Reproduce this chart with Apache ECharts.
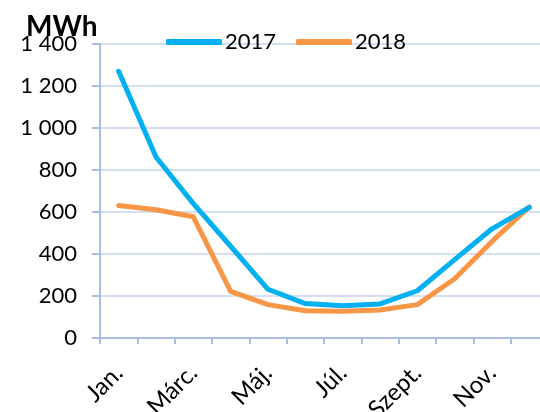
<!DOCTYPE html>
<html>
<head>
<meta charset="utf-8">
<script src="https://cdn.jsdelivr.net/npm/echarts@6/dist/echarts.min.js"></script>
<style>html,body{margin:0;padding:0;background:#fff;}#c{width:540px;height:412px;}</style>
</head>
<body>
<div id="c"></div>
<script>
var categories = ['Jan.', 'Febr.', 'Márc.', 'Ápr.', 'Máj.', 'Jún.', 'Júl.', 'Aug.', 'Szept.', 'Okt.', 'Nov.', 'Dec.'];
var series2017 = [1270, 862, 640, 437, 232, 164, 154, 162, 225, 373, 520, 622];
var series2018 = [631, 611, 577, 222, 159, 130, 127, 133, 159, 282, 460, 624];
var yTicks = [0, 200, 400, 600, 800, 1000, 1200, 1400];
var unitLabel = 'MWh';

var FONT = 'Lato';
var chart = echarts.init(document.getElementById('c'), null, {renderer: 'canvas'});
chart.setOption({
  animation: false,
  backgroundColor: '#ffffff',
  title: {
    text: unitLabel, left: 21, top: 8,
    textStyle: {fontFamily: FONT, fontWeight: 'bold', fontSize: 28, color: '#000'}
  },
  legend: {
    data: [{name: '2017', icon: 'roundRect'}, {name: '2018', icon: 'roundRect'}],
    left: 161, top: 26, itemWidth: 56, itemHeight: 6, itemGap: 20,
    textStyle: {fontFamily: FONT, fontSize: 22, color: '#000', padding: [0, 0, 0, -2]}
  },
  grid: {left: 100, top: 44, width: 448, height: 294, containLabel: false, outerBoundsMode: 'none'},
  xAxis: {
    type: 'category', data: categories, boundaryGap: true,
    axisLine: {show: true, lineStyle: {color: '#A8BDE4', width: 2}},
    axisTick: {show: true, interval: 0, length: 6, lineStyle: {color: '#A8BDE4', width: 2}},
    axisLabel: {interval: 1, rotate: 45, margin: 31, fontFamily: FONT, fontSize: 24, color: '#000'},
    splitLine: {show: false}
  },
  yAxis: {
    type: 'value', min: yTicks[0], max: yTicks[yTicks.length - 1], interval: yTicks[1] - yTicks[0],
    axisLine: {show: true, lineStyle: {color: '#A8BDE4', width: 2}},
    axisTick: {show: true, length: 8, lineStyle: {color: '#A8BDE4', width: 2}},
    axisLabel: {
      margin: 23, fontFamily: FONT, fontSize: 22, color: '#000',
      formatter: function (v) { return String(v).replace(/\B(?=(\d{3})+(?!\d))/g, ' '); }
    },
    splitLine: {show: true, lineStyle: {color: '#C8D5EE', width: 1.5}}
  },
  series: [
    {name: '2017', type: 'line', data: series2017, symbol: 'none', color: '#00B0F0',
     lineStyle: {width: 5, color: '#00B0F0', join: 'round', cap: 'round'}, z: 3},
    {name: '2018', type: 'line', data: series2018, symbol: 'none', color: '#F79646',
     lineStyle: {width: 5, color: '#F79646', join: 'round', cap: 'round'}, z: 2}
  ]
});
</script>
</body>
</html>
